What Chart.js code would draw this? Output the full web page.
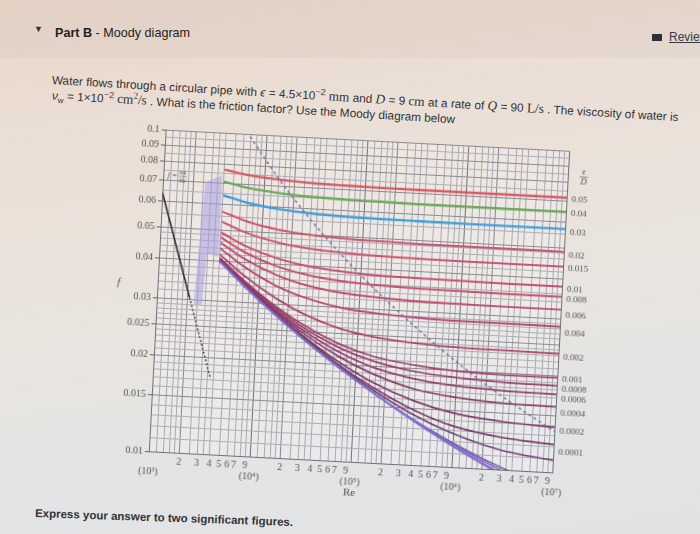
<!DOCTYPE html>
<html>
<head>
<meta charset="utf-8">
<script src="https://cdn.jsdelivr.net/npm/chart.js@4.4.1/dist/chart.umd.min.js"></script>
<style>
html,body{margin:0;padding:0;}
body{width:700px;height:534px;overflow:hidden;position:relative;
  background:linear-gradient(172deg,#e9d7ca 0%,#ebdfd6 25%,#e9e4df 55%,#e3e4e5 80%,#e0e2e4 100%);
  font-family:"Liberation Sans",Arial,sans-serif;color:#2a2a2a;}
#band{position:absolute;left:0;top:0;width:700px;height:58px;background:rgba(120,100,90,0.05);}
#tri{position:absolute;left:34px;top:24px;font-size:9px;color:#333;}
#title{position:absolute;left:55px;top:25px;font-size:12.6px;line-height:16px;white-space:nowrap;color:#222;}
#ico{position:absolute;left:652px;top:34px;width:10px;height:7px;background:#2e2e38;}
#review{position:absolute;left:669px;top:30px;font-size:12px;line-height:15px;color:#3a3a44;text-decoration:underline;white-space:nowrap;}
.q{position:absolute;left:52px;font-size:11.8px;line-height:15px;white-space:nowrap;transform-origin:0 50%;transform:rotate(3.4deg);color:#333;}
.m{font-family:"Liberation Serif","Times New Roman",serif;font-size:13.3px;}
#q1{top:69px;}
#q2{top:84px;}
#express{position:absolute;left:35px;top:506px;font-size:11.5px;font-weight:bold;line-height:15px;white-space:nowrap;transform-origin:0 50%;transform:rotate(2deg);color:#333;}
#wrap{position:absolute;left:108.5px;top:130.25px;width:502px;height:374px;transform-origin:250px 171px;transform:rotate(3deg);}
#c{display:block;}
</style>
</head>
<body>
<div id="band"></div>
<div id="tri">▼</div>
<div id="title"><b>Part B</b> - Moody diagram</div>
<div id="ico"></div>
<div id="review">Review</div>
<div class="q" id="q1">Water flows through a circular pipe with <i>ϵ</i> = 4.5×10<sup style="font-size:9px">−2</sup> <span class="m">mm</span> and <i class="m">D</i> = 9 <span class="m">cm</span> at a rate of <i class="m">Q</i> = 90 <span class="m">L/s</span> . The viscosity of water is</div>
<div class="q" id="q2"><i>ν</i><sub style="font-size:8px">w</sub> = 1×10<sup style="font-size:9px">−2</sup> <span class="m">cm<sup style="font-size:9px">2</sup>/s</span> . What is the friction factor? Use the Moody diagram below</div>
<div id="express">Express your answer to two significant figures.</div>
<div id="wrap"><canvas id="c" width="502" height="374"></canvas></div>
<script>
// ---- data ----
const reNodes = [4000, 7000, 15000, 30000, 70000, 150000, 400000, 1000000, 3000000, 10000000];
const fEd0_05    = [0.0770, 0.0747, 0.0731, 0.0723, 0.0719, 0.0717, 0.0716, 0.0716, 0.0716, 0.0716];
const fEd0_04    = [0.0707, 0.0682, 0.0664, 0.0655, 0.0650, 0.0649, 0.0647, 0.0647, 0.0647, 0.0647];
const fEd0_03    = [0.0641, 0.0613, 0.0592, 0.0582, 0.0576, 0.0574, 0.0573, 0.0572, 0.0572, 0.0572];
const fEd0_02    = [0.0570, 0.0537, 0.0511, 0.0499, 0.0492, 0.0489, 0.0487, 0.0487, 0.0487, 0.0486];
const fEd0_015   = [0.0531, 0.0495, 0.0466, 0.0452, 0.0444, 0.0440, 0.0438, 0.0437, 0.0437, 0.0437];
const fEd0_01    = [0.0491, 0.0450, 0.0416, 0.0398, 0.0388, 0.0383, 0.0381, 0.0380, 0.0379, 0.0379];
const fEd0_008   = [0.0474, 0.0430, 0.0393, 0.0374, 0.0362, 0.0357, 0.0354, 0.0353, 0.0352, 0.0352];
const fEd0_006   = [0.0456, 0.0410, 0.0369, 0.0347, 0.0333, 0.0327, 0.0323, 0.0322, 0.0321, 0.0321];
const fEd0_004   = [0.0438, 0.0388, 0.0342, 0.0317, 0.0299, 0.0292, 0.0287, 0.0285, 0.0285, 0.0284];
const fEd0_002   = [0.0419, 0.0365, 0.0313, 0.0281, 0.0257, 0.0246, 0.0239, 0.0236, 0.0235, 0.0234];
const fEd0_001   = [0.0409, 0.0353, 0.0296, 0.0260, 0.0230, 0.0214, 0.0204, 0.0199, 0.0197, 0.0197];
const fEd0_0008  = [0.0407, 0.0350, 0.0293, 0.0255, 0.0224, 0.0207, 0.0195, 0.0190, 0.0187, 0.0186];
const fEd0_0006  = [0.0405, 0.0348, 0.0289, 0.0250, 0.0217, 0.0198, 0.0185, 0.0179, 0.0176, 0.0175];
const fEd0_0004  = [0.0403, 0.0345, 0.0286, 0.0245, 0.0210, 0.0189, 0.0172, 0.0165, 0.0161, 0.0160];
const fEd0_0002  = [0.0401, 0.0343, 0.0282, 0.0240, 0.0202, 0.0178, 0.0158, 0.0147, 0.0141, 0.0138];
const fEd0_0001  = [0.0400, 0.0341, 0.0280, 0.0238, 0.0198, 0.0172, 0.0148, 0.0134, 0.0126, 0.0122];
const fEd0_00005 = [0.0400, 0.0341, 0.0279, 0.0236, 0.0196, 0.0169, 0.0143, 0.0127, 0.0115, 0.0109];
const fEd0_00001 = [0.0399, 0.0340, 0.0278, 0.0235, 0.0195, 0.0166, 0.0138, 0.0119, 0.0102, 0.0090];
const fEd5e_6    = [0.0399, 0.0340, 0.0278, 0.0235, 0.0194, 0.0166, 0.0138, 0.0118, 0.0100, 0.0086];
const fEd1e_6    = [0.0399, 0.0340, 0.0278, 0.0235, 0.0194, 0.0166, 0.0137, 0.0117, 0.0098, 0.0083];
const fSmooth    = [0.0399, 0.0340, 0.0278, 0.0235, 0.0194, 0.0166, 0.0137, 0.0116, 0.0097, 0.0081];

const turbRe = [6900, 14950, 27880, 45350, 102700, 229500, 653500, 1427000, 3095000, 10000000];
const turbF  = [0.0985, 0.0716, 0.0572, 0.0486, 0.0379, 0.0304, 0.0234, 0.0196, 0.0167, 0.0134];

const lamRe = [1000, 2100];
const lamF  = [0.064, 0.0305];
const lamDashRe = [2100, 3700];
const lamDashF  = [0.0305, 0.0173];

const critRe = [2320, 2630, 3830, 3880, 2970, 2810];
const critF  = [0.0291, 0.0700, 0.0740, 0.0412, 0.0422, 0.0291];

const edLabels = ['0.05','0.04','0.03','0.02','0.015','0.01','0.008','0.006','0.004','0.002','0.001','0.0008','0.0006','0.0004','0.0002','0.0001'];
const edLabelF = [0.0707, 0.0642, 0.0559, 0.0475, 0.0431, 0.0372, 0.0345, 0.0309, 0.0272, 0.0228, 0.0195, 0.0181, 0.0169, 0.0153, 0.0134, 0.0116];

const yTickLabels = ['0.1','0.09','0.08','0.07','0.06','0.05','0.04','0.03','0.025','0.02','0.015','0.01'];
const xDigitLabels = ['2','3','4','5','6','7','9'];
const xDecadeLabels = ['(10³)','(10⁴)','(10⁵)','(10⁶)','(10⁷)'];

// ---- grids (tick positions) ----
const xMult = [10,12,14,16,18,20,25,30,35,40,50,60,70,80,90];
const xGrid = [];
for (let n = 2; n <= 5; n++) { const b = Math.pow(10, n); xMult.forEach(m => xGrid.push(m * b)); }
xGrid.push(10000000);
const yGridInt = [];
for (let i = 100; i < 300; i += 10) yGridInt.push(i);
for (let i = 300; i < 500; i += 20) yGridInt.push(i);
for (let i = 500; i <= 1000; i += 50) yGridInt.push(i);
const yGrid = yGridInt.map(i => i / 10000);
const yLabelInt = yTickLabels.map(s => Math.round(parseFloat(s) * 10000));

function xLabel(v) {
  const e = Math.round(Math.log10(v));
  if (Math.abs(v - Math.pow(10, e)) < 1e-6 * v) return ['', xDecadeLabels[e - 3]];
  const lead = v / Math.pow(10, Math.floor(Math.log10(v) + 1e-9));
  const s = String(Math.round(lead * 10) / 10);
  return xDigitLabels.includes(s) ? s : '';
}
function isDecade(v) { const e = Math.round(Math.log10(v)); return Math.abs(v - Math.pow(10, e)) < 1e-6 * v; }
function isTwo(v) { const e = Math.floor(Math.log10(v) + 1e-9); return Math.abs(v / Math.pow(10, e) - 2) < 1e-6; }
function yLabel(v) { const i = yLabelInt.indexOf(Math.round(v * 10000)); return i >= 0 ? yTickLabels[i] : ''; }

const curves = [
  [fEd0_05, '#d85a66', 2.4], [fEd0_04, '#6da85c', 2.4], [fEd0_03, '#3f9fd9', 2.4],
  [fEd0_02, '#cc5470', 2], [fEd0_015, '#cc5470', 2], [fEd0_01, '#c64f6e', 2],
  [fEd0_008, '#c64f6e', 2], [fEd0_006, '#be4a6e', 1.9], [fEd0_004, '#b8476e', 1.9],
  [fEd0_002, '#ac436c', 1.8], [fEd0_001, '#9f406c', 1.7], [fEd0_0008, '#983e6b', 1.7],
  [fEd0_0006, '#903c6a', 1.7], [fEd0_0004, '#873a68', 1.7], [fEd0_0002, '#7e3866', 1.7],
  [fEd0_0001, '#763866', 1.7], [fEd0_00005, '#704070', 1.6], [fEd0_00001, '#7a5aa8', 1.6],
  [fEd5e_6, '#8064bb', 1.5], [fEd1e_6, '#866cc6', 1.5], [fSmooth, '#7c74d2', 1.6]
];

// Chart.js draws higher "order" first (underneath)
const datasets = [];
datasets.push({
  data: critRe.map((r, i) => ({x: r, y: critF[i]})), order: 100,
  fill: 'shape', backgroundColor: 'rgba(168,158,228,0.55)', borderWidth: 0, pointRadius: 0, tension: 0
});
curves.forEach(([arr, col, w], i) => {
  datasets.push({
    data: reNodes.map((r, k) => ({x: r, y: arr[k]})), order: 50 - i,
    borderColor: col, borderWidth: w, pointRadius: 0, fill: false, cubicInterpolationMode: 'monotone'
  });
});
datasets.push({
  data: lamRe.map((r, i) => ({x: r, y: lamF[i]})), order: 2,
  borderColor: '#2b2b30', borderWidth: 1.6, pointRadius: 0, fill: false, tension: 0
});
datasets.push({
  data: lamDashRe.map((r, i) => ({x: r, y: lamDashF[i]})), order: 2,
  borderColor: '#3a3a48', borderWidth: 1.4, borderDash: [2, 2], pointRadius: 0, fill: false, tension: 0
});
datasets.push({
  data: turbRe.map((r, i) => ({x: r, y: turbF[i]})), order: 1,
  borderColor: '#76749e', borderWidth: 1.5, borderDash: [3, 3], pointRadius: 0, fill: false, cubicInterpolationMode: 'monotone'
});

const serif = '"Liberation Serif","Times New Roman",serif';
const txt = '#555';

const plotBg = {
  id: 'plotBg',
  beforeDraw(chart) {
    const {ctx, chartArea: a} = chart;
    ctx.save(); ctx.fillStyle = 'rgba(255,255,255,0.22)';
    ctx.fillRect(a.left, a.top, a.right - a.left, a.bottom - a.top); ctx.restore();
  }
};
const annot = {
  id: 'annot',
  afterDraw(chart) {
    const {ctx, chartArea: a, scales: {x, y}} = chart;
    ctx.save();
    ctx.fillStyle = txt; ctx.strokeStyle = txt; ctx.textAlign = 'center'; ctx.textBaseline = 'middle';
    ctx.font = 'italic 11px ' + serif;
    ctx.fillText('f', a.left - 39, y.getPixelForValue(0.033));
    ctx.font = 'italic 8px ' + serif;
    ctx.fillText('f =', x.getPixelForValue(1230), y.getPixelForValue(0.0722));
    ctx.font = '6.5px ' + serif;
    const fx = x.getPixelForValue(1560), fy = y.getPixelForValue(0.0722);
    ctx.fillText('64', fx, fy - 4);
    ctx.fillText('Re', fx, fy + 4);
    ctx.lineWidth = 0.6; ctx.beginPath(); ctx.moveTo(fx - 4, fy); ctx.lineTo(fx + 4, fy); ctx.stroke();
    const ex = a.right + 16, ey = y.getPixelForValue(0.0835);
    ctx.font = 'italic 9px ' + serif;
    ctx.fillText('ϵ', ex, ey - 5);
    ctx.fillText('D', ex, ey + 5);
    ctx.lineWidth = 0.7; ctx.beginPath(); ctx.moveTo(ex - 4, ey); ctx.lineTo(ex + 4, ey); ctx.stroke();
    ctx.restore();
  }
};

new Chart(document.getElementById('c'), {
  type: 'line',
  data: {datasets},
  plugins: [plotBg, annot],
  options: {
    responsive: false, animation: false, devicePixelRatio: 1,
    layout: {padding: {top: 10, left: 0, right: 0, bottom: 0}},
    plugins: {legend: {display: false}, tooltip: {enabled: false}},
    scales: {
      x: {
        type: 'logarithmic', position: 'bottom', min: 1000, max: 10000000,
        afterBuildTicks: s => { s.ticks = xGrid.map(v => ({value: v})); },
        afterFit: s => { s.height = 42; },
        ticks: {autoSkip: false, maxRotation: 0, minRotation: 0, padding: 4, color: txt,
                font: {family: serif, size: 10, lineHeight: 1.1}, callback: v => xLabel(v)},
        grid: {drawTicks: false, lineWidth: 1,
               color: c => !c.tick ? '#888' : isDecade(c.tick.value) ? '#6f6f7a' : isTwo(c.tick.value) ? '#85858f' : '#a8a8b2'},
        border: {color: '#6f6f7a'},
        title: {display: true, text: 'Re', color: txt, font: {family: serif, size: 11}, padding: {top: 0, bottom: 4}}
      },
      y: {
        type: 'logarithmic', position: 'left', min: 0.01, max: 0.1,
        afterBuildTicks: s => { s.ticks = yGrid.map(v => ({value: v})); },
        afterFit: s => { s.width = 48; },
        ticks: {autoSkip: false, padding: 2, color: txt, font: {family: serif, size: 10}, callback: v => yLabel(v)},
        grid: {lineWidth: 1, tickLength: 4,
               color: c => !c.tick ? '#888' : yLabel(c.tick.value) ? '#8a8a94' : '#aeaeb7',
               tickColor: c => (c.tick && yLabel(c.tick.value)) ? '#666' : 'rgba(0,0,0,0)'},
        border: {color: '#6f6f7a'}
      },
      y2: {
        type: 'logarithmic', position: 'right', min: 0.01, max: 0.1,
        afterBuildTicks: s => { s.ticks = edLabelF.map(v => ({value: v})); },
        afterFit: s => { s.width = 50; },
        grid: {display: false, drawTicks: false}, border: {display: false},
        ticks: {autoSkip: false, padding: 5, color: txt, font: {family: serif, size: 9},
                callback: v => edLabels[edLabelF.indexOf(v)]}
      }
    }
  }
});
</script>
</body>
</html>
